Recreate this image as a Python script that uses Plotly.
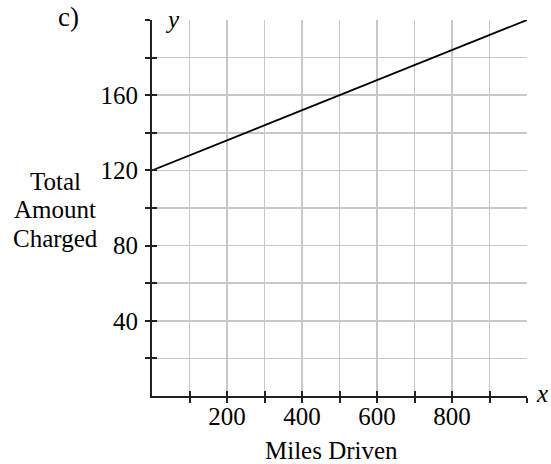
import plotly.graph_objects as go

# Data
miles = [0, 1000]
charge = [120, 200]

x_tick_vals = [100, 200, 300, 400, 500, 600, 700, 800, 900, 1000]
x_tick_text = ["", "200", "", "400", "", "600", "", "800", "", ""]
y_tick_vals = [20, 40, 60, 80, 100, 120, 140, 160, 180, 200]
y_tick_text = ["", "40", "", "80", "", "120", "", "160", "", ""]
y_title_lines = ["Total", "Amount", "Charged"]

W, H = 551, 464
ml, mr, mt, mb = 152, 24, 20, 68
pw, ph = W - ml - mr, H - mt - mb
PL, PB = ml, mt + ph  # plot left / bottom in page pixels

FONT = "Liberation Serif"
FS = 25

def px_x(p):
    return (p - PL) / pw

def px_y(p):
    return (PB - p) / ph

fig = go.Figure()
fig.add_trace(go.Scatter(x=miles, y=charge, mode="lines",
                         line=dict(color="black", width=1.8),
                         showlegend=False, hoverinfo="skip"))
# invisible trace for the overlay axes (inner half of the crossing ticks)
fig.add_trace(go.Scatter(x=miles, y=charge, mode="lines", xaxis="x2", yaxis="y2",
                         line=dict(color="rgba(0,0,0,0)"), showlegend=False,
                         hoverinfo="skip"))

axis_common = dict(tickwidth=2, tickcolor="#222", ticklen=5, zeroline=False,
                   fixedrange=True)

annotations = [
    dict(text="c)", x=px_x(68), y=px_y(0), xref="paper", yref="paper",
         showarrow=False, font=dict(size=27), xanchor="center", yanchor="top"),
    dict(text="<i>y</i>", x=px_x(172), y=px_y(19), xref="paper", yref="paper",
         showarrow=False, font=dict(size=FS), xanchor="center", yanchor="middle"),
    dict(text="<i>x</i>", x=px_x(542), y=px_y(393), xref="paper", yref="paper",
         showarrow=False, font=dict(size=FS), xanchor="center", yanchor="middle"),
    dict(text="Miles Driven", x=px_x(331), y=px_y(451), xref="paper", yref="paper",
         showarrow=False, font=dict(size=FS), xanchor="center", yanchor="middle"),
]
for txt, yy in zip(y_title_lines, [181, 210, 239]):
    annotations.append(dict(text=txt, x=px_x(55), y=px_y(yy), xref="paper",
                            yref="paper", showarrow=False, font=dict(size=FS),
                            xanchor="center", yanchor="middle"))

fig.update_layout(
    width=W, height=H,
    margin=dict(l=ml, r=mr, t=mt, b=mb),
    paper_bgcolor="white", plot_bgcolor="white",
    font=dict(family=FONT, size=FS, color="black"),
    xaxis=dict(range=[0, 1000], tickvals=x_tick_vals, ticktext=x_tick_text,
               showgrid=True, gridcolor="#c8c8c8", gridwidth=1.5,
               showline=True, linecolor="#222", linewidth=2,
               ticks="outside", ticklabelstandoff=-8, **axis_common),
    yaxis=dict(range=[0, 200], tickvals=y_tick_vals, ticktext=y_tick_text,
               showgrid=True, gridcolor="#c8c8c8", gridwidth=1.5,
               showline=True, linecolor="#222", linewidth=2,
               ticks="outside", ticklabelstandoff=2, **axis_common),
    xaxis2=dict(range=[0, 1000], overlaying="x", tickvals=x_tick_vals,
                showticklabels=False, showgrid=False, showline=False,
                ticks="inside", **axis_common),
    yaxis2=dict(range=[0, 200], overlaying="y", tickvals=y_tick_vals,
                showticklabels=False, showgrid=False, showline=False,
                ticks="inside", **axis_common),
    annotations=annotations,
)

fig.write_html("out.html",
               config={"displayModeBar": False, "staticPlot": True},
               post_script="document.body.style.margin='0';document.body.style.padding='0';")
